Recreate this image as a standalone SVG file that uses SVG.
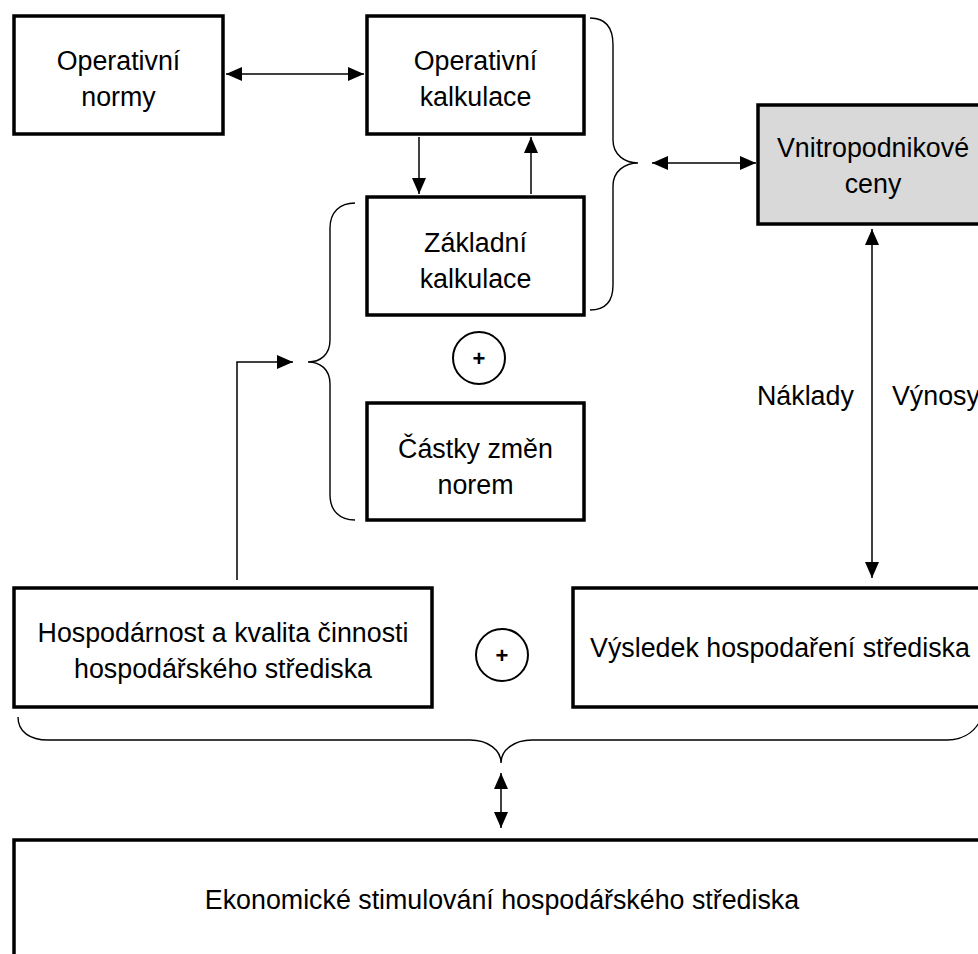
<svg xmlns="http://www.w3.org/2000/svg" width="978" height="954" viewBox="0 0 978 954">
  <style>
    .box { fill: #ffffff; stroke: #000000; stroke-width: 3.5; }
    .shade { fill: #d9d9d9; }
    .lbl { font-family: "Liberation Sans", Arial, sans-serif; font-size: 26.8px; fill: #000000; text-anchor: middle; }
    .plain { font-family: "Liberation Sans", Arial, sans-serif; font-size: 26.8px; fill: #000000; }
    .line { fill: none; stroke: #000000; stroke-width: 1.5; }
    .brace { fill: none; stroke: #000000; stroke-width: 1.4; }
    .plus { fill: #ffffff; stroke: #000000; stroke-width: 2; }
    .plustxt { font-family: "Liberation Sans", Arial, sans-serif; font-size: 22px; font-weight: bold; fill: #000000; text-anchor: middle; }
  </style>
  <defs>
    <marker id="ah" viewBox="0 0 16 14" refX="16" refY="7" markerWidth="16" markerHeight="14" orient="auto-start-reverse" markerUnits="userSpaceOnUse">
      <path d="M0,0 L16,7 L0,14 z" fill="#000000"/>
    </marker>
  </defs>

  <rect width="978" height="954" fill="#ffffff"/>

  <!-- nodes -->
  <g id="operativni-normy">
    <rect class="box" x="14" y="16" width="209" height="118"/>
    <text class="lbl" x="118.5" y="70">Operativní</text>
    <text class="lbl" x="118.5" y="106">normy</text>
  </g>

  <g id="operativni-kalkulace">
    <rect class="box" x="367" y="16" width="217" height="118"/>
    <text class="lbl" x="475.5" y="70">Operativní</text>
    <text class="lbl" x="475.5" y="106">kalkulace</text>
  </g>

  <g id="zakladni-kalkulace">
    <rect class="box" x="367" y="197" width="217" height="118"/>
    <text class="lbl" x="475.5" y="252">Základní</text>
    <text class="lbl" x="475.5" y="288">kalkulace</text>
  </g>

  <g id="plus-kalkulace">
    <circle class="plus" cx="479" cy="358" r="26"/>
    <text class="plustxt" x="479" y="366">+</text>
  </g>

  <g id="castky-zmen-norem">
    <rect class="box" x="367" y="403" width="217" height="117"/>
    <text class="lbl" x="475.5" y="458">Částky změn</text>
    <text class="lbl" x="475.5" y="494">norem</text>
  </g>

  <g id="vnitropodnikove-ceny">
    <rect class="box shade" x="758" y="105" width="232" height="119"/>
    <text class="lbl" x="873" y="157">Vnitropodnikové</text>
    <text class="lbl" x="873" y="193">ceny</text>
  </g>

  <g id="naklady-vynosy">
    <text class="plain" x="757" y="405">Náklady</text>
    <text class="plain" x="892" y="405">Výnosy</text>
  </g>

  <g id="hospodarnost">
    <rect class="box" x="14" y="588" width="418" height="119"/>
    <text class="lbl" x="223" y="642">Hospodárnost a kvalita činnosti</text>
    <text class="lbl" x="223" y="678">hospodářského střediska</text>
  </g>

  <g id="plus-vysledek">
    <circle class="plus" cx="502" cy="655" r="26"/>
    <text class="plustxt" x="502" y="663">+</text>
  </g>

  <g id="vysledek-hospodareni">
    <rect class="box" x="573" y="588" width="417" height="119"/>
    <text class="lbl" x="780" y="657">Výsledek hospodaření střediska</text>
  </g>

  <g id="ekonomicke-stimulovani">
    <rect class="box" x="14" y="840" width="980" height="130"/>
    <text class="lbl" x="502" y="909">Ekonomické stimulování hospodářského střediska</text>
  </g>

  <!-- connectors and grouping braces -->
  <g id="connectors">
    <line class="line" x1="226" y1="74" x2="364" y2="74" marker-start="url(#ah)" marker-end="url(#ah)"/>
    <line class="line" x1="419" y1="137" x2="419" y2="194" marker-end="url(#ah)"/>
    <line class="line" x1="531" y1="194" x2="531" y2="137" marker-end="url(#ah)"/>
    <line class="line" x1="652" y1="163" x2="756" y2="163" marker-start="url(#ah)" marker-end="url(#ah)"/>
    <line class="line" x1="872" y1="229" x2="872" y2="578" marker-start="url(#ah)" marker-end="url(#ah)"/>
    <polyline class="line" points="237,580 237,362 293,362" marker-end="url(#ah)"/>
    <line class="line" x1="501" y1="773" x2="501" y2="828" marker-start="url(#ah)" marker-end="url(#ah)"/>

    <path class="brace" d="M590,18 C605,18 613,26 613,45 L613,140 C613,155 625,163 638,163 C625,163 613,171 613,186 L613,285 C613,302 605,310 590,310"/>
    <path class="brace" d="M355,203 C340,203 330,212 330,228 L330,340 C330,355 320,362 308,362 C320,362 330,369 330,384 L330,495 C330,511 340,520 355,520"/>
    <path class="brace" d="M18,717 C18,732 30,740 48,740 L470,740 C488,740 501,750 501,763 C501,750 514,740 532,740 L947,740 C965,740 978,730 984,712"/>
  </g>
</svg>
